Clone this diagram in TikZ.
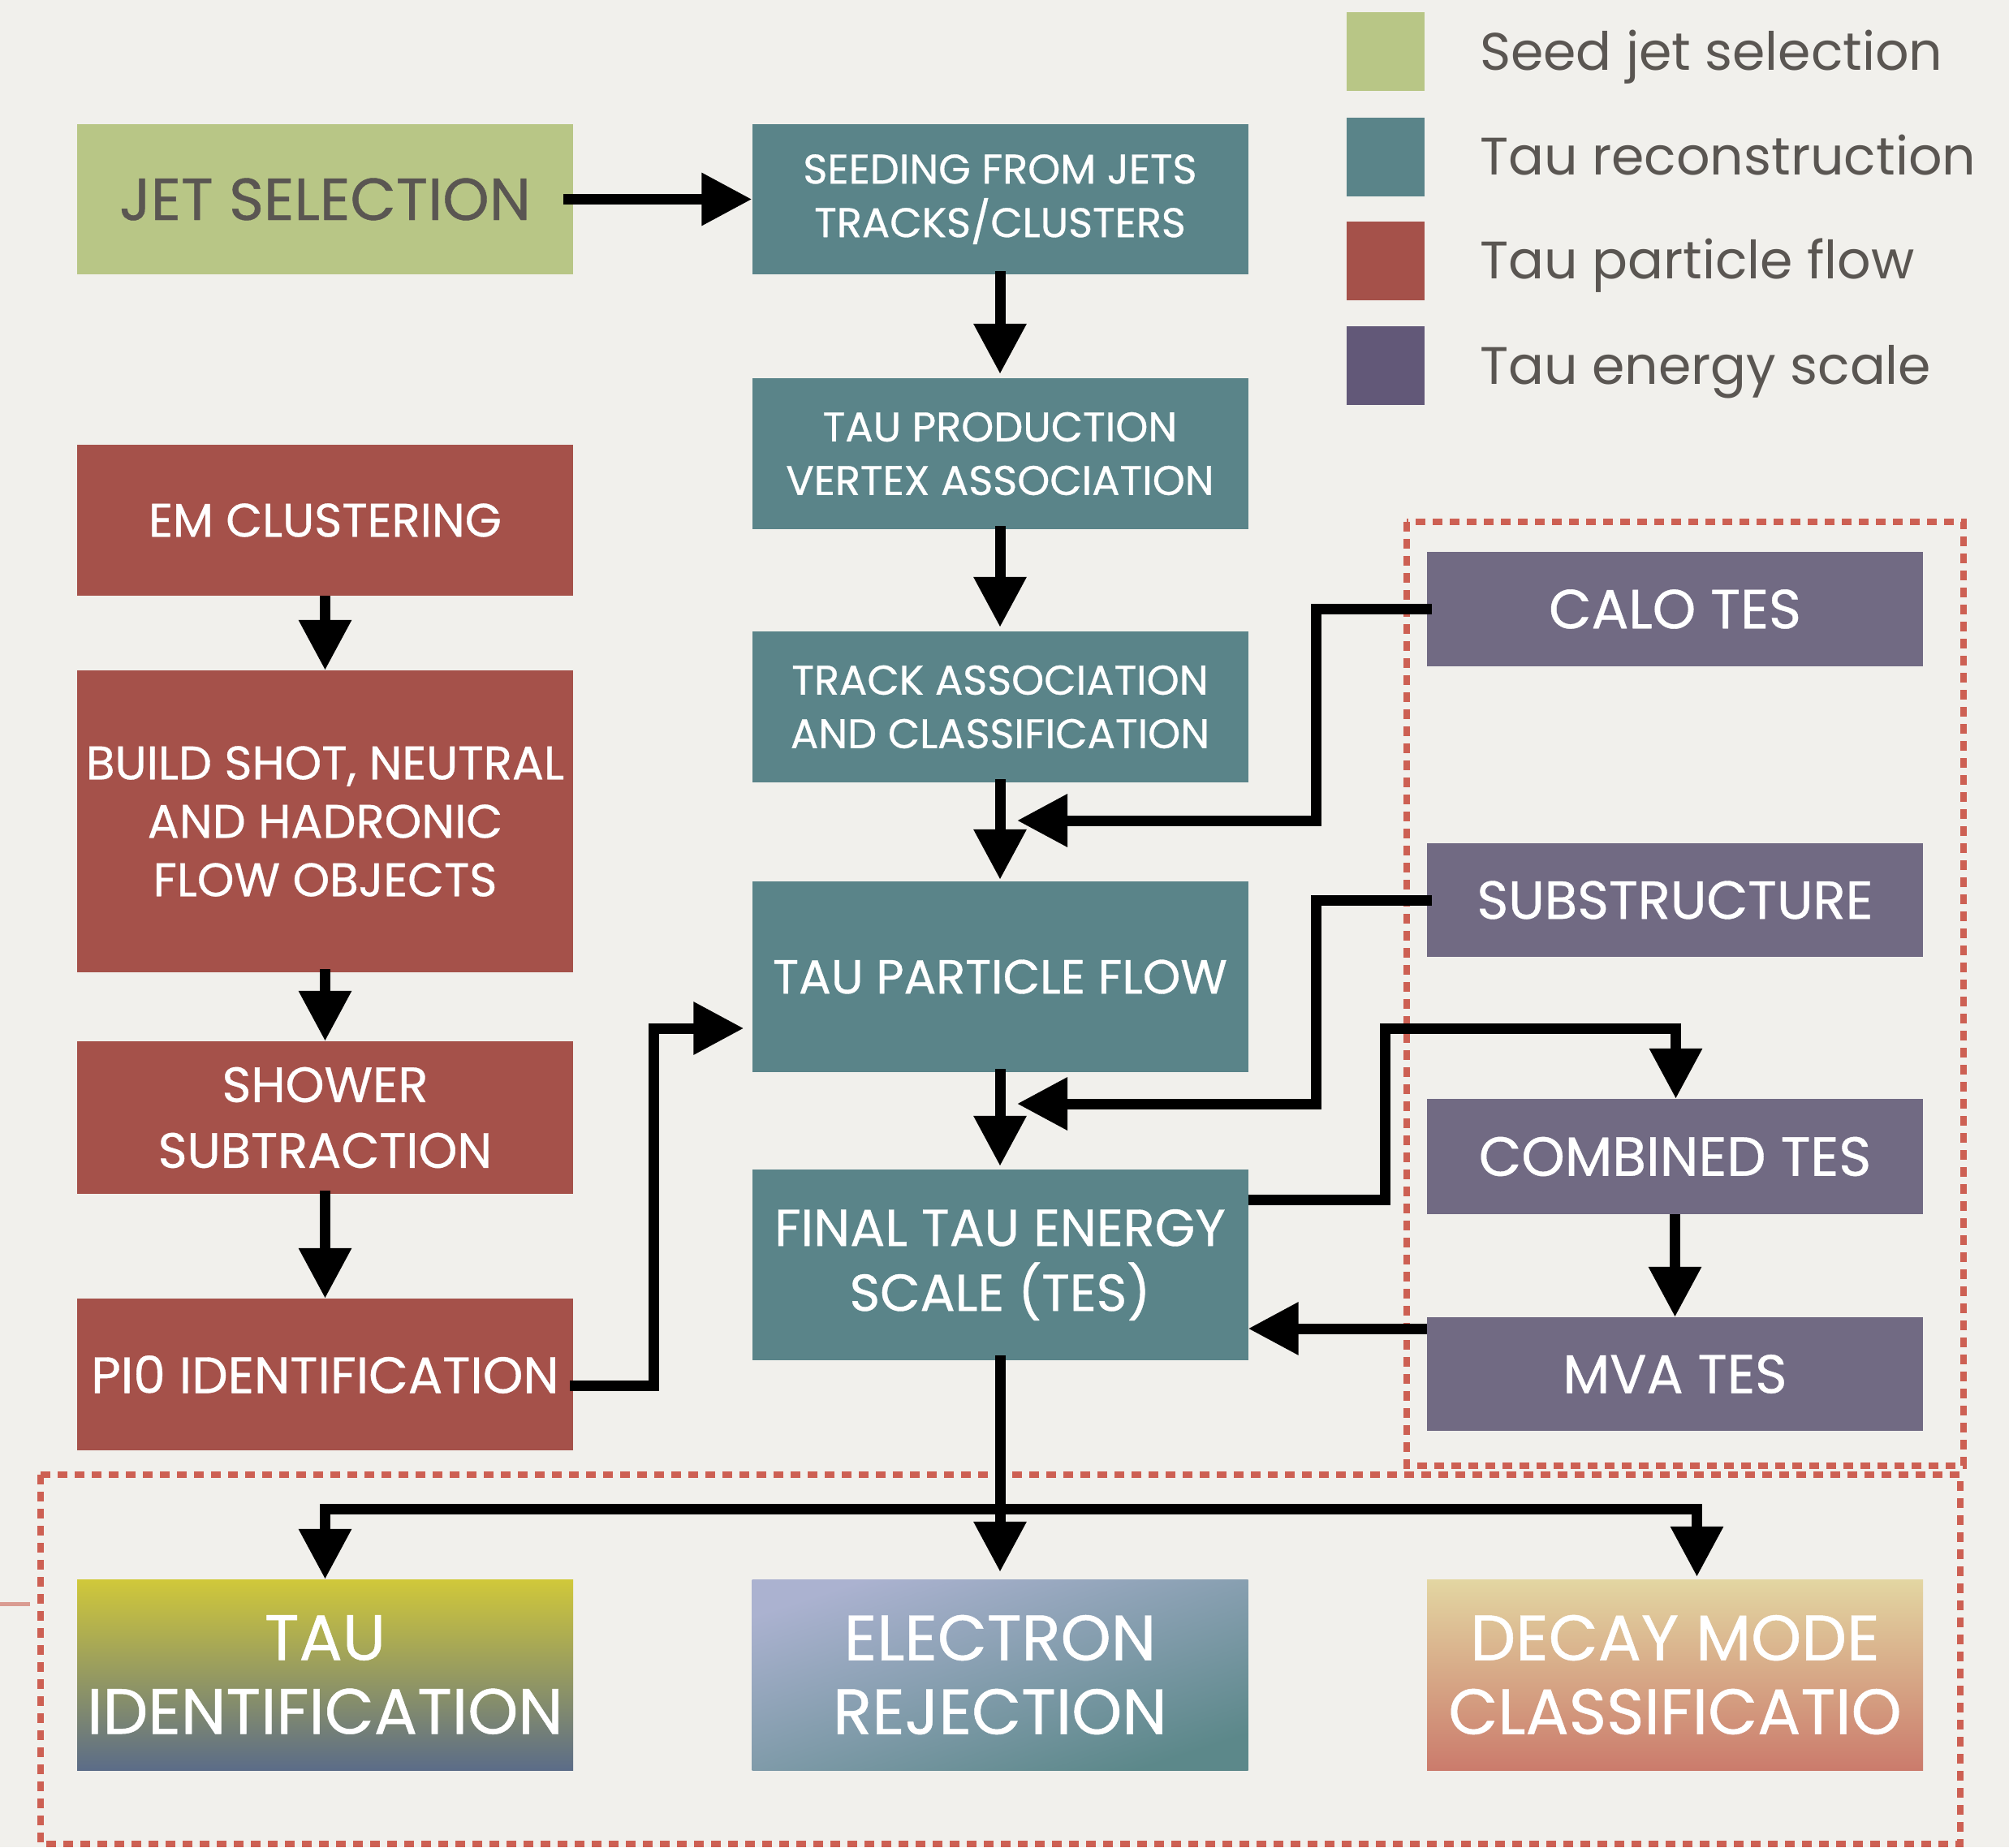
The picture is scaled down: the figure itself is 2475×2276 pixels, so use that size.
\documentclass[tikz,border=0pt]{standalone}
\usepackage{fontspec}
\newfontfamily\fut{Poppins}
\newfontfamily\futb[FakeBold=0.6]{Poppins}
\usetikzlibrary{arrows.meta}
\definecolor{bgc}{HTML}{F1F0EC}
\definecolor{greenc}{HTML}{B8C686}
\definecolor{tealc}{HTML}{5A8489}
\definecolor{redc}{HTML}{A5514A}
\definecolor{purc}{HTML}{625878}
\definecolor{tesc}{HTML}{716A83}
\definecolor{dashc}{HTML}{CD6053}
\definecolor{grayc}{HTML}{5A5652}
\definecolor{stubc}{HTML}{DA9C92}
\definecolor{idtop}{HTML}{D0C83A}
\definecolor{idbot}{HTML}{5B6C88}
\definecolor{eltop}{HTML}{ABB2D0}
\definecolor{elbot}{HTML}{5C888A}
\definecolor{dmtop}{HTML}{E3D6A2}
\definecolor{dmbot}{HTML}{CB7B6C}
\newcommand{\fsz}[2]{\fut\fontsize{#1pt}{#2pt}\selectfont}
\newcommand{\bsz}[2]{\futb\fontsize{#1pt}{#2pt}\selectfont}
\begin{document}
\begin{tikzpicture}[x=1pt,y=-1pt,
  blk/.style={rectangle, inner sep=0pt, minimum width=611pt, align=center, text=white},
  gbox/.style={blk, fill=greenc},
  tbox/.style={blk, fill=tealc},
  rbox/.style={blk, fill=redc},
  pbox/.style={blk, fill=tesc},
  legsq/.style={rectangle, inner sep=0pt, minimum width=96pt, minimum height=97pt},
  legtxt/.style={anchor=base west, inner sep=0pt, text=grayc, font=\fsz{65}{80}},
  arr/.style={line width=13pt, -{Triangle[length=62pt,width=62pt]}},
  dbox/.style={draw=dashc, line width=8pt, dash pattern=on 12pt off 9pt}]
\fill[bgc] (0,0) rectangle (2475,2276);
\useasboundingbox (0,0) rectangle (2475,2276);

% legend
\node[legsq, fill=greenc] (l1) at (1707,63) {};
\node[legsq, fill=tealc] (l2) at (1707,193.5) {};
\node[legsq, fill=redc] (l3) at (1707,321) {};
\node[legsq, fill=purc] (l4) at (1707,450) {};
\node[legtxt] (lt1) at (1823,86) {Seed jet selection};
\node[legtxt] (lt2) at (1823,215) {Tau reconstruction};
\node[legtxt] (lt3) at (1823,343) {Tau particle flow};
\node[legtxt] (lt4) at (1823,473) {Tau energy scale};

% dashed groups
\draw[dbox] (1733,643) rectangle (2419,1806);
\draw[dbox] (50,1817) rectangle (2415,2272);
\draw[stubc, line width=5pt] (0,1976) -- (37,1976);

% left column
\node[gbox, minimum height=185pt, text=grayc, font=\bsz{73}{80}] (jet) at (400.5,245.5) {JET SELECTION};
\node[rbox, minimum height=186pt, font=\bsz{58}{72}] (em) at (400.5,641) {EM CLUSTERING};
\node[rbox, minimum height=372pt, font=\bsz{58}{72}] (build) at (400.5,1012) {BUILD SHOT, NEUTRAL\\AND HADRONIC\\FLOW OBJECTS};
\node[rbox, minimum height=188pt, font=\bsz{61}{81}] (shower) at (400.5,1377) {SHOWER\\SUBTRACTION};
\node[rbox, minimum height=187pt, font=\bsz{63}{72}] (pi0) at (400.5,1693.5) {PI0 IDENTIFICATION};

% middle column
\node[tbox, minimum height=185pt, font=\bsz{51}{66}] (seed) at (1232,245.5) {SEEDING FROM JETS\\TRACKS/CLUSTERS};
\node[tbox, minimum height=186pt, font=\bsz{51}{66}] (prod) at (1232,559) {TAU PRODUCTION\\VERTEX ASSOCIATION};
\node[tbox, minimum height=186pt, font=\bsz{51}{66}] (track) at (1232,871) {TRACK ASSOCIATION\\AND CLASSIFICATION};
\node[tbox, minimum height=235pt, font=\bsz{59}{80}] (tpf) at (1232,1203.5) {TAU PARTICLE FLOW};
\node[tbox, minimum height=235pt, font=\bsz{64}{80}] (final) at (1232,1558.5) {FINAL TAU ENERGY\\SCALE (TES)};

% right column
\node[pbox, minimum height=141pt, font=\bsz{68}{80}] (calo) at (2063.5,750.5) {CALO TES};
\node[pbox, minimum height=140pt, font=\bsz{66}{80}] (subst) at (2063.5,1109) {SUBSTRUCTURE};
\node[pbox, minimum height=142pt, font=\bsz{68}{80}] (comb) at (2063.5,1425) {COMBINED TES};
\node[pbox, minimum height=140pt, font=\bsz{67}{80}] (mva) at (2063.5,1693) {MVA TES};

% bottom row
\node[blk, minimum height=235pt, top color=idtop, bottom color=idbot, font=\bsz{79}{91}] (tauid) at (400.5,2063.5) {TAU\\IDENTIFICATION};
\node[blk, minimum height=235pt, top color=eltop, bottom color=elbot, shading angle=18, font=\bsz{79}{91}] (elec) at (1232,2063.5) {ELECTRON\\REJECTION};
\node[blk, minimum height=235pt, top color=dmtop, bottom color=dmbot, font=\bsz{79}{91}] (decay) at (2063.5,2063.5) {DECAY MODE\\CLASSIFICATIO};

% connectors
\coordinate (j1) at (1621,1011);
\coordinate (j2) at (1621,1360);
\coordinate (j3) at (1706,1267);
\coordinate (p1) at (805,1267);
\coordinate (br) at (1232,1859);
\coordinate (m1) at (2063.5,1637);
\coordinate (f1) at (1232,1478.5);

\draw[arr] ([xshift=-12pt]jet.east) -- (seed.west);
\draw[arr, shorten <=-4pt, shorten >=5pt] (seed.south) -- (prod.north);
\draw[arr, shorten <=-4pt, shorten >=5pt] (prod.south) -- (track.north);
\draw[arr, shorten <=-4pt, shorten >=2pt] (track.south) -- (tpf.north);
\draw[arr, shorten <=-4pt, shorten >=4pt] (tpf.south) -- (final.north);

\draw[arr] ([xshift=6pt]calo.west) -| (j1) -- (j1 -| 1253,0);
\draw[arr] ([xshift=6pt]subst.west) -| (j2) -- (j2 -| 1253,0);
\draw[arr] (f1 -| final.east) -| (j3) -| ([xshift=1pt]comb.north);
\draw[arr] (comb.south) -- (mva.north);
\draw[arr] (m1 -| mva.west) -- (m1 -| final.east);

\draw[arr] (em.south) -- (build.north);
\draw[arr, shorten <=-4pt] (build.south) -- (shower.north);
\draw[arr, shorten <=-4pt] (shower.south) -- (pi0.north);
\draw[arr, shorten >=10pt] ([xshift=-4pt, yshift=-14pt]pi0.east) -| (p1) -- (p1 -| tpf.west);

\draw[arr, shorten <=-6pt, shorten >=9pt] (final.south) -- (elec.north);
\draw[arr] (br) -| (tauid.north);
\draw[arr, shorten >=3pt] (br) -| ([xshift=27pt]decay.north);
\end{tikzpicture}
\end{document}
